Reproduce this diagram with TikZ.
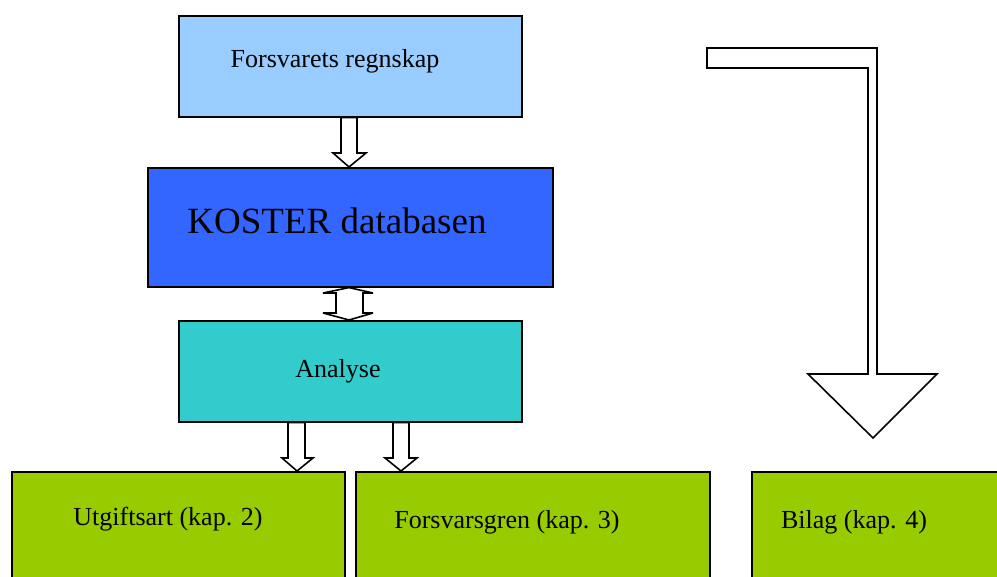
\documentclass[tikz,border=0pt]{standalone}
\usepackage{fontspec}
\setmainfont{Liberation Serif}
\usetikzlibrary{calc}
\definecolor{lblue}{HTML}{99CCFF}
\definecolor{kblue}{HTML}{3366FF}
\definecolor{teal}{HTML}{33CCCC}
\definecolor{lgreen}{HTML}{99CC00}
\tikzset{
  box/.style={draw=black, line width=1.6pt, rectangle, inner sep=0pt, anchor=north west},
  lbl/.style={inner sep=0pt, font=\fontsize{26}{30}\selectfont},
  barrow/.style={draw=black, fill=white, line width=1.6pt, line join=miter, miter limit=3}
}
\begin{document}
\begin{tikzpicture}[x=1pt,y=-1pt]
\useasboundingbox (0,0) rectangle (997,577);
\clip (0,0) rectangle (997,577);
% boxes
\node[box, fill=lblue, minimum width=343pt, minimum height=101pt] (fr) at (178,15) {};
\node[box, fill=kblue, minimum width=405pt, minimum height=119pt] (ko) at (147,167) {};
\node[box, fill=teal, minimum width=343pt, minimum height=101pt] (an) at (178,320) {};
\node[box, fill=lgreen, minimum width=333pt, minimum height=140pt] (ut) at (11,471) {};
\node[box, fill=lgreen, minimum width=354pt, minimum height=140pt] (fg) at (355,471) {};
\node[box, fill=lgreen, minimum width=280pt, minimum height=140pt] (bi) at (751,471) {};
% labels
\node[lbl] (frt) at (335,61) {Forsvarets regnskap};
\node[lbl, font=\fontsize{37}{42}\selectfont] (kot) at (337,221) {KOSTER databasen};
\node[lbl] (ant) at (338,371) {Analyse};
\node[lbl] (utt) at (168,519) {Utgiftsart (kap. 2)};
\node[lbl] (fgt) at (507,522) {Forsvarsgren (kap. 3)};
\node[lbl] (bit) at (854,522) {Bilag (kap. 4)};
% arrow fr -> ko
\draw[barrow] (341,0 |- fr.south) -- (357,0 |- fr.south) -- (357,153) -- (366,153)
  -- (349,0 |- ko.north) -- (333,153) -- (341,153) -- cycle;
% double arrow ko <-> an
\draw[barrow] (349,0 |- ko.south) -- (373,293) -- (363,293) -- (363,313) -- (373,313)
  -- (349,0 |- an.north) -- (323,313) -- (336,313) -- (336,293) -- (323,293) -- cycle;
% arrows an -> ut, an -> fg
\draw[barrow] (288,0 |- an.south) -- (305,0 |- an.south) -- (305,458) -- (313,458)
  -- (297,0 |- ut.north) -- (282,458) -- (288,458) -- cycle;
\draw[barrow] (393,0 |- an.south) -- (409,0 |- an.south) -- (409,458) -- (417,458)
  -- (401,0 |- fg.north) -- (385,458) -- (393,458) -- cycle;
% big bent arrow
\draw[barrow] (707,48) -- (877,48) -- (877,374) -- (937,374) -- (873,438)
  -- (808,374) -- (868,374) -- (868,68) -- (707,68) -- cycle;
\end{tikzpicture}
\end{document}
